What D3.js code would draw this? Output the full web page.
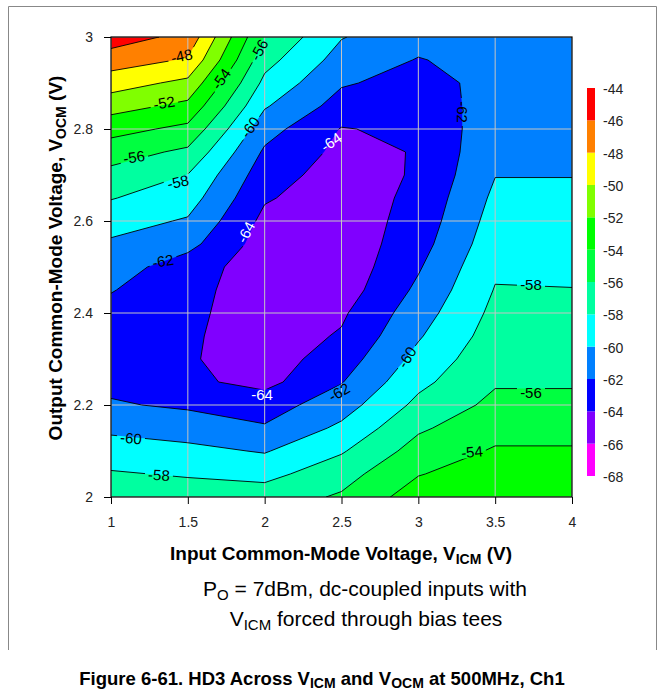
<!DOCTYPE html>
<html>
<head>
<meta charset="utf-8">
<script src="https://cdn.jsdelivr.net/npm/d3@7"></script>
<style>
  body { margin: 0; background: #fff; }
  svg text { font-family: "Liberation Sans", Arial, sans-serif; }
</style>
</head>
<body>
<div id="app"></div>
<script>
// grid of the measurement (VICM across, VOCM up)
const vicm = [1, 1.5, 2, 2.5, 3, 3.5, 4];
const vocm = [2.00, 2.05, 2.10, 2.15, 2.20, 2.25, 2.30, 2.35, 2.40, 2.45, 2.50,
              2.55, 2.60, 2.65, 2.70, 2.75, 2.80, 2.85, 2.90, 2.95, 3.00];

// HD3 (dBc), one column per VICM, from VOCM = 2 up to 3
const hd3At1v0 = [-56.5, -57.8, -59.1, -60.4, -61.8, -62.5, -62.9, -62.9, -62.6, -61.9, -61.1,
                  -60.3, -59.2, -57.9, -56.6, -55.1, -53.3, -51.2, -49.1, -47.0, -45.0];
const hd3At1v5 = [-56.9, -58.2, -59.5, -60.9, -62.3, -63.6, -63.8, -63.7, -63.5, -63.3, -63.0,
                  -61.4, -60.2, -59.1, -58.05, -56.4, -54.5, -52.5, -50.5, -48.2, -46.6];
const hd3At2v0 = [-57.0, -58.6, -60.15, -61.8, -62.9, -64.6, -65.0, -65.1, -65.2, -65.2, -65.1,
                  -64.9, -64.5, -63.8, -63.1, -62.3, -61.2, -59.8, -58.5, -57.3, -56.1];
const hd3At2v5 = [-55.75, -56.8, -58.2, -59.6, -60.9, -62.1, -63.0, -63.8, -64.3, -65.0, -65.3,
                  -65.3, -65.2, -65.1, -64.9, -64.5, -64.1, -62.8, -61.8, -60.8, -59.9];
const hd3At3v0 = [-53.0, -54.1, -55.2, -56.3, -57.5, -58.5, -59.4, -60.2, -60.9, -61.6, -62.2,
                  -62.8, -63.2, -63.5, -63.8, -63.9, -63.6, -63.2, -62.7, -62.1, -61.3];
const hd3At3v5 = [-52.2, -53.0, -53.8, -54.7, -55.5, -56.2, -56.6, -57.1, -57.5, -57.9, -58.3,
                  -58.8, -59.2, -59.6, -60.05, -60.4, -60.8, -61.1, -61.4, -61.3, -61.0];
const hd3At4v0 = [-52.2, -53.0, -53.8, -54.7, -55.5, -56.2, -56.6, -57.1, -57.5, -57.95, -58.4,
                  -58.8, -59.2, -59.6, -60.05, -60.3, -60.6, -60.8, -60.9, -60.9, -60.8];

const levels = [-68, -66, -64, -62, -60, -58, -56, -54, -52, -50, -48, -46, -44];
const bandColors = ["#ff00ff", "#8000ff", "#0000ff", "#0080ff", "#00ffff", "#00ffa0",
                    "#00ff40", "#00ff00", "#80ff00", "#ffff00", "#ff8000", "#ff0000"];
const xTicks = [1, 1.5, 2, 2.5, 3, 3.5, 4];
const yTicks = [2, 2.2, 2.4, 2.6, 2.8, 3];

const W = 665, H = 692;
const svg = d3.select("#app").append("svg")
  .attr("width", W)
  .attr("height", H)
  .style("background-color", "#fff");

const x = d3.scaleLinear().domain([1, 4]).range([111, 572]);
const y = d3.scaleLinear().domain([2, 3]).range([497, 37]);

// frame around the figure
svg.append("path")
  .attr("d", "M8.5,650 V6.5 H656.5 V650")
  .attr("fill", "none")
  .attr("stroke", "#888")

const defs = svg.append("defs");
defs.append("clipPath").attr("id", "plotClip")
  .append("rect")
  .attr("x", x(1)).attr("y", y(3))
  .attr("width", x(4) - x(1)).attr("height", y(2) - y(3));

// contours
const cols = [hd3At1v0, hd3At1v5, hd3At2v0, hd3At2v5, hd3At3v0, hd3At3v5, hd3At4v0];
const values = [];
vocm.forEach((v, j) => cols.forEach(c => values.push(c[j])));

const contours = d3.contours()
  .size([vicm.length, vocm.length])
  .thresholds(levels.slice(0, -1))(values);

// grid cell centres sit at i+0.5
const gx = d3.scaleLinear().domain([0.5, vicm.length - 0.5]).range([x(vicm[0]), x(vicm[vicm.length - 1])]);
const gy = d3.scaleLinear().domain([0.5, vocm.length - 0.5]).range([y(vocm[0]), y(vocm[vocm.length - 1])]);
const path = d3.geoPath(d3.geoTransform({
  point(px, py) { this.stream.point(gx(px), gy(py)); }
}));

const plot = svg.append("g").attr("clip-path", "url(#plotClip)");
plot.selectAll("path.band")
  .data(contours)
  .join("path")
  .attr("class", "band")
  .attr("d", path)
  .attr("fill", d => bandColors[levels.indexOf(d.value)]);

// grid
plot.selectAll("line.gx").data(xTicks).join("line")
  .attr("x1", d => x(d)).attr("x2", d => x(d))
  .attr("y1", y(2)).attr("y2", y(3))
  .attr("stroke", "#c4c4c4").attr("stroke-width", 1);
plot.selectAll("line.gy").data(yTicks).join("line")
  .attr("y1", d => y(d)).attr("y2", d => y(d))
  .attr("x1", x(1)).attr("x2", x(4))
  .attr("stroke", "#c4c4c4").attr("stroke-width", 1);

// labels on the contour lines
const contourLabels = [
  {v: -48, at: [1.46, 2.959], rot: -12},
  {v: -52, at: [1.345, 2.857], rot: -10},
  {v: -54, at: [1.716, 2.909], rot: -55},
  {v: -56, at: [1.963, 2.972], rot: -62},
  {v: -56, at: [1.15, 2.739], rot: -8},
  {v: -58, at: [1.436, 2.685], rot: -12},
  {v: -60, at: [1.905, 2.804], rot: -55},
  {v: -64, at: [2.432, 2.772], rot: -35, white: true},
  {v: -64, at: [1.878, 2.576], rot: -62, white: true},
  {v: -62, at: [1.338, 2.513], rot: -10},
  {v: -62, at: [3.29, 2.837], rot: 90},
  {v: -64, at: [1.983, 2.222], rot: 0, white: true},
  {v: -62, at: [2.484, 2.228], rot: -30},
  {v: -60, at: [2.926, 2.304], rot: -58},
  {v: -60, at: [1.13, 2.128], rot: 5},
  {v: -58, at: [1.312, 2.048], rot: 3},
  {v: -58, at: [3.733, 2.461], rot: 0},
  {v: -56, at: [3.733, 2.228], rot: 0},
  {v: -54, at: [3.349, 2.098], rot: -5}
];
const lblPos = d => `translate(${x(d.at[0])},${y(d.at[1])}) rotate(${d.rot})`;

const mask = defs.append("mask").attr("id", "lblGap")
  .attr("maskUnits", "userSpaceOnUse")
  .attr("x", 0).attr("y", 0).attr("width", W).attr("height", H);
mask.append("rect").attr("width", W).attr("height", H).attr("fill", "#fff");
mask.selectAll("rect.gap").data(contourLabels).join("rect")
  .attr("class", "gap")
  .attr("x", -14).attr("y", -6).attr("width", 28).attr("height", 12)
  .attr("transform", lblPos)
  .attr("fill", "#000");

plot.append("g").attr("mask", "url(#lblGap)")
  .selectAll("path.line")
  .data(contours.filter(d => d.value > levels[0]))
  .join("path")
  .attr("class", "line")
  .attr("d", path)
  .attr("fill", "none")
  .attr("stroke", "#000")
  .attr("stroke-width", 0.9);

svg.append("g").selectAll("text").data(contourLabels).join("text")
  .attr("transform", lblPos)
  .attr("text-anchor", "middle")
  .attr("dy", "0.36em")
  .attr("font-size", 15)
  .attr("fill", d => d.white ? "#fff" : "#000")
  .text(d => d.v);

// border
svg.append("rect")
  .attr("x", x(1)).attr("y", y(3))
  .attr("width", x(4) - x(1)).attr("height", y(2) - y(3))
  .attr("fill", "none").attr("stroke", "#000").attr("stroke-width", 1.2);

// axes
const xAxis = svg.append("g")
  .attr("transform", `translate(0,${y(2)})`)
  .call(d3.axisBottom(x).tickValues(xTicks).tickSize(7).tickPadding(13).tickFormat(d => d));
const yAxis = svg.append("g")
  .attr("transform", `translate(${x(1)},0)`)
  .call(d3.axisLeft(y).tickValues(yTicks).tickSize(7).tickPadding(11).tickFormat(d => d));
[xAxis, yAxis].forEach(g => {
  g.select(".domain").remove();
  g.attr("font-size", 14).attr("font-family", "Liberation Sans, Arial, sans-serif");
  g.selectAll("text").attr("fill", "#222");
  g.selectAll("line").attr("stroke", "#000");
});

// legend
const legY = d3.scaleLinear().domain([-44, -68]).range([88, 476]);
const leg = svg.append("g");
leg.selectAll("rect").data(bandColors).join("rect")
  .attr("x", 587).attr("width", 8)
  .attr("y", (c, i) => legY(levels[i + 1]))
  .attr("height", (c, i) => legY(levels[i]) - legY(levels[i + 1]))
  .attr("fill", c => c);
leg.selectAll("text").data(levels).join("text")
  .attr("x", 603)
  .attr("y", d => legY(d) + 1)
  .attr("dy", "0.35em")
  .attr("font-size", 14)
  .attr("fill", "#222")
  .text(d => d);

// titles
const xt = svg.append("text")
  .attr("x", 341).attr("y", 560)
  .attr("text-anchor", "middle")
  .attr("font-size", 19).attr("font-weight", "bold");
xt.append("tspan").text("Input Common-Mode Voltage, V");
xt.append("tspan").attr("font-size", 14).attr("dy", 4).text("ICM");
xt.append("tspan").attr("dy", -4).text(" (V)");

const yt = svg.append("text")
  .attr("transform", "translate(62,258) rotate(-90)")
  .attr("text-anchor", "middle")
  .attr("font-size", 19).attr("font-weight", "bold");
yt.append("tspan").text("Output Common-Mode Voltage, V");
yt.append("tspan").attr("font-size", 14).attr("dy", 4).text("OCM");
yt.append("tspan").attr("dy", -4).text(" (V)");

const s1 = svg.append("text")
  .attr("x", 365).attr("y", 596)
  .attr("text-anchor", "middle")
  .attr("font-size", 21);
s1.append("tspan").text("P");
s1.append("tspan").attr("font-size", 15).attr("dy", 4).text("O");
s1.append("tspan").attr("dy", -4).text(" = 7dBm, dc-coupled inputs with");

const s2 = svg.append("text")
  .attr("x", 366).attr("y", 626)
  .attr("text-anchor", "middle")
  .attr("font-size", 21);
s2.append("tspan").text("V");
s2.append("tspan").attr("font-size", 15).attr("dy", 4).text("ICM");
s2.append("tspan").attr("dy", -4).text(" forced through bias tees");

const cap = svg.append("text")
  .attr("x", 322).attr("y", 685)
  .attr("text-anchor", "middle")
  .attr("font-size", 18.5).attr("font-weight", "bold");
cap.append("tspan").text("Figure 6-61. HD3 Across V");
cap.append("tspan").attr("font-size", 14).attr("dy", 3).text("ICM");
cap.append("tspan").attr("dy", -3).text(" and V");
cap.append("tspan").attr("font-size", 14).attr("dy", 3).text("OCM");
cap.append("tspan").attr("dy", -3).text(" at 500MHz, Ch1");
</script>
</body>
</html>
